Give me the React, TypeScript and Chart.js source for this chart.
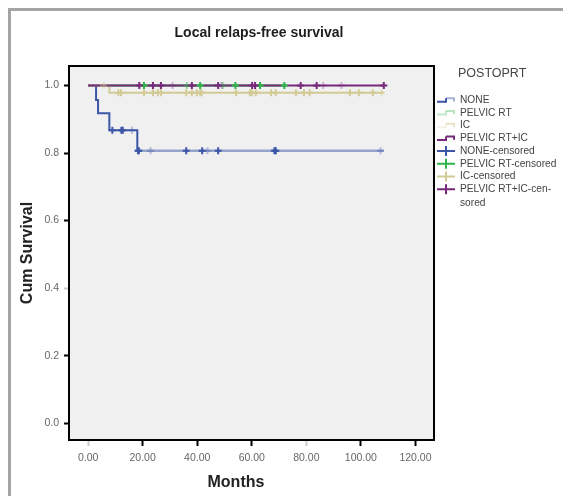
import { useEffect, useRef } from 'react';
import { Chart, registerables } from 'chart.js';

Chart.register(...registerables);

// ---------- data ----------
const chartTitle = 'Local relaps-free survival';
const xTitle = 'Months';
const yTitle = 'Cum Survival';
const legendTitle = 'POSTOPRT';
const seriesNames = ['NONE', 'PELVIC RT', 'IC', 'PELVIC RT+IC'];
const legendLabels = [
  'NONE',
  'PELVIC RT',
  'IC',
  'PELVIC RT+IC',
  'NONE-censored',
  'PELVIC RT-censored',
  'IC-censored',
  'PELVIC RT+IC-cen-\nsored',
];

const xTicks = [0, 20, 40, 60, 80, 100, 120];
const yTicks = [0, 0.2, 0.4, 0.6, 0.8, 1.0];
const faintXTicks = [0, 80];
const faintYTicks = [0.4];

// Kaplan-Meier step points (time, survival)
const noneTimes = [0, 2.92, 3.65, 7.79, 18.04, 108.4];
const noneSurv = [1, 0.957, 0.918, 0.868, 0.807, 0.807];
const pelvicTimes = [0, 71.95];
const pelvicSurv = [1, 1];
const icTimes = [0, 7.79, 108.5];
const icSurv = [1, 0.979, 0.979];
const pelvicIcTimes = [0, 108.4];
const pelvicIcSurv = [1, 1];

// censored times
const noneCensored = [8.89, 12.2, 12.7, 18.3, 18.6, 35.97, 41.82, 47.68, 68.3, 68.8];
const noneCensoredFaint = [16.09, 22.9, 43.77, 107.2];
const pelvicCensored = [20.48, 41.09, 54.0, 63.04, 71.95];
const pelvicCensoredFaint = [36.2, 49.38];
const icCensored = [
  11.09, 12.06, 20.48, 23.77, 25.6, 26.7, 35.97, 38.04, 39.87, 41.09, 41.57, 54.26,
  59.38, 59.99, 61.46, 67.07, 68.78, 76.22, 79.14, 81.22, 96.0, 99.27, 104.4,
];
const icCensoredFaint = [5.7, 107.6];
const pelvicIcCensored = [18.77, 23.77, 26.7, 38.04, 47.68, 60.12, 61.2, 77.92, 83.78, 108.4];
const pelvicIcCensoredFaint = [30.96, 48.9, 86.2, 92.9];

// ---------- styles ----------
const FONT = '"Liberation Sans", Arial, Helvetica, sans-serif';
const colors = ['#3b55a7', '#2db54b', '#d3cb96', '#77287b'];
const faintColors = [
  'rgba(59,85,167,0.35)',
  'rgba(45,181,75,0.45)',
  'rgba(211,203,150,0.45)',
  'rgba(119,40,123,0.3)',
];
const noneFadedLine = 'rgba(59,85,167,0.5)';
const iconLowerAlpha = [1, 0.3, 0.25, 1];
const iconUpperAlpha = [0.45, 0.35, 0.55, 1];

function survAt(times: number[], surv: number[], t: number) {
  let v = surv[0];
  for (let i = 0; i < times.length; i++) if (times[i] <= t) v = surv[i];
  return v;
}
const curve = (times: number[], surv: number[]) => times.map((t, i) => ({ x: t, y: surv[i] }));
const marks = (cens: number[], times: number[], surv: number[]) =>
  cens.map((t) => ({ x: t, y: survAt(times, surv, t) }));

const lineDs = (i: number, times: number[], surv: number[], order: number, extra: any = {}) => ({
  label: seriesNames[i],
  data: curve(times, surv),
  borderColor: colors[i],
  borderWidth: 2,
  pointRadius: 0,
  stepped: true,
  fill: false,
  order,
  ...extra,
});
const markDs = (label: string, data: any[], color: string, order: number) => ({
  label,
  data,
  showLine: false,
  pointStyle: 'cross',
  pointRadius: 3.5,
  pointBorderColor: color,
  pointBackgroundColor: color,
  pointBorderWidth: 2,
  borderColor: color,
  order,
});

const lastNoneDrop = noneTimes[noneTimes.length - 2];

const spssPlugin = {
  id: 'spssDecor',
  beforeDraw(chart: any) {
    const { ctx, chartArea: a } = chart;
    ctx.save();
    ctx.fillStyle = '#f0f0f0';
    ctx.fillRect(a.left, a.top, a.right - a.left, a.bottom - a.top);
    ctx.restore();
  },
  afterDraw(chart: any) {
    const { ctx, chartArea: a } = chart;
    ctx.save();
    // frame
    ctx.strokeStyle = '#000';
    ctx.lineWidth = 2;
    ctx.strokeRect(a.left, a.top, a.right - a.left, a.bottom - a.top);

    // chart title
    ctx.fillStyle = '#1e1e1e';
    ctx.font = `bold 14px ${FONT}`;
    ctx.textAlign = 'center';
    ctx.textBaseline = 'middle';
    ctx.fillText(chartTitle, (a.left + a.right) / 2 + 7.5, a.top - 33);

    // legend
    ctx.textAlign = 'left';
    ctx.fillStyle = '#444';
    ctx.font = `12.5px ${FONT}`;
    ctx.fillText(legendTitle, a.right + 24, a.top + 8);
    ctx.font = `10.2px ${FONT}`;
    const x0 = a.right + 3;
    let y = a.top + 34;
    legendLabels.forEach((lab, i) => {
      ctx.lineWidth = 2;
      if (i < 4) {
        const c = colors[i];
        ctx.strokeStyle = c;
        ctx.globalAlpha = iconLowerAlpha[i];
        ctx.beginPath();
        ctx.moveTo(x0, y + 1.7);
        ctx.lineTo(x0 + 9, y + 1.7);
        ctx.lineTo(x0 + 9, y - 1.7);
        ctx.stroke();
        ctx.globalAlpha = iconUpperAlpha[i];
        ctx.beginPath();
        ctx.moveTo(x0 + 9, y - 1.7);
        ctx.lineTo(x0 + 17, y - 1.7);
        ctx.lineTo(x0 + 17, y + 1.5);
        ctx.stroke();
        ctx.globalAlpha = 1;
      } else {
        ctx.strokeStyle = colors[i - 4];
        ctx.beginPath();
        ctx.moveTo(x0, y);
        ctx.lineTo(x0 + 18, y);
        ctx.moveTo(x0 + 9, y - 5);
        ctx.lineTo(x0 + 9, y + 5);
        ctx.stroke();
      }
      ctx.fillStyle = '#444';
      const lines = lab.split('\n');
      lines.forEach((ln, j) => ctx.fillText(ln, a.right + 26, y + j * 14));
      y += 12.75 + (lines.length - 1) * 14;
    });
    ctx.restore();
  },
};

export default function App() {
  const ref = useRef<HTMLCanvasElement>(null);
  useEffect(() => {
    const datasets: any[] = [
      markDs('PELVIC RT+IC-censored', marks(pelvicIcCensored, pelvicIcTimes, pelvicIcSurv), colors[3], 0),
      markDs('PELVIC RT-censored', marks(pelvicCensored, pelvicTimes, pelvicSurv), colors[1], 1),
      markDs('IC-censored', marks(icCensored, icTimes, icSurv), colors[2], 2),
      markDs('NONE-censored', marks(noneCensored, noneTimes, noneSurv), colors[0], 3),
      markDs('faint-3', marks(pelvicIcCensoredFaint, pelvicIcTimes, pelvicIcSurv), faintColors[3], 4),
      markDs('faint-1', marks(pelvicCensoredFaint, pelvicTimes, pelvicSurv), faintColors[1], 4),
      markDs('faint-2', marks(icCensoredFaint, icTimes, icSurv), faintColors[2], 4),
      markDs('faint-0', marks(noneCensoredFaint, noneTimes, noneSurv), faintColors[0], 4),
      lineDs(3, pelvicIcTimes, pelvicIcSurv, 5),
      lineDs(2, icTimes, icSurv, 6),
      lineDs(1, pelvicTimes, pelvicSurv, 7),
      lineDs(0, noneTimes, noneSurv, 8, {
        segment: {
          borderColor: (c: any) => (c.p0.parsed.x >= lastNoneDrop ? noneFadedLine : colors[0]),
          borderWidth: (c: any) => (c.p0.parsed.x >= lastNoneDrop ? 2.5 : 2),
        },
      }),
    ];
    const chart = new Chart(ref.current as HTMLCanvasElement, {
      type: 'line',
      data: { datasets },
      options: {
        responsive: false,
        animation: false,
        events: [],
        layout: { padding: { top: 55, right: 129, left: 0, bottom: 0 } },
        plugins: {
          legend: { display: false },
          title: { display: false },
          tooltip: { enabled: false },
        },
        scales: {
          x: {
            type: 'linear',
            min: -7,
            max: 126.8,
            afterBuildTicks: (s: any) => {
              s.ticks = xTicks.map((v) => ({ value: v }));
            },
            afterFit: (s: any) => {
              s.height = 56;
            },
            ticks: {
              callback: (v: any) => Number(v).toFixed(2),
              color: '#666',
              font: { family: FONT, size: 10.5 },
              padding: 6,
              maxRotation: 0,
              autoSkip: false,
            },
            grid: {
              display: true,
              drawOnChartArea: false,
              drawTicks: true,
              tickLength: 6,
              tickWidth: 2,
              tickColor: (c: any) => (faintXTicks.includes(c.tick?.value) ? '#cccccc' : '#000'),
            },
            border: { display: false },
            title: {
              display: true,
              text: xTitle + '       ',
              color: '#222',
              font: { family: FONT, size: 16, weight: 'bold' },
              padding: { top: 0, bottom: 4 },
            },
          },
          y: {
            type: 'linear',
            min: -0.05,
            max: 1.058,
            afterBuildTicks: (s: any) => {
              s.ticks = yTicks.map((v) => ({ value: v }));
            },
            afterFit: (s: any) => {
              s.width = 58;
            },
            ticks: {
              callback: (v: any) => Number(v).toFixed(1),
              color: '#666',
              font: { family: FONT, size: 10.5 },
              padding: 5,
              autoSkip: false,
            },
            grid: {
              display: true,
              drawOnChartArea: false,
              drawTicks: true,
              tickLength: 5,
              tickWidth: 2,
              tickColor: (c: any) => (faintYTicks.includes(c.tick?.value) ? '#cccccc' : '#000'),
            },
            border: { display: false },
            title: {
              display: true,
              text: yTitle,
              color: '#222',
              font: { family: FONT, size: 16, weight: 'bold' },
              padding: { top: 7, bottom: 0 },
            },
          },
        },
      } as any,
      plugins: [spssPlugin],
    });
    return () => chart.destroy();
  }, []);

  return (
    <div
      style={{
        position: 'fixed',
        left: 8,
        top: 8,
        width: 620,
        height: 560,
        borderTop: '3px solid #a4a4a4',
        borderLeft: '3px solid #a4a4a4',
        overflow: 'hidden',
        background: '#fff',
      }}
    >
      <canvas ref={ref} width={552} height={485} style={{ display: 'block', width: 552, height: 485 }} />
    </div>
  );
}
